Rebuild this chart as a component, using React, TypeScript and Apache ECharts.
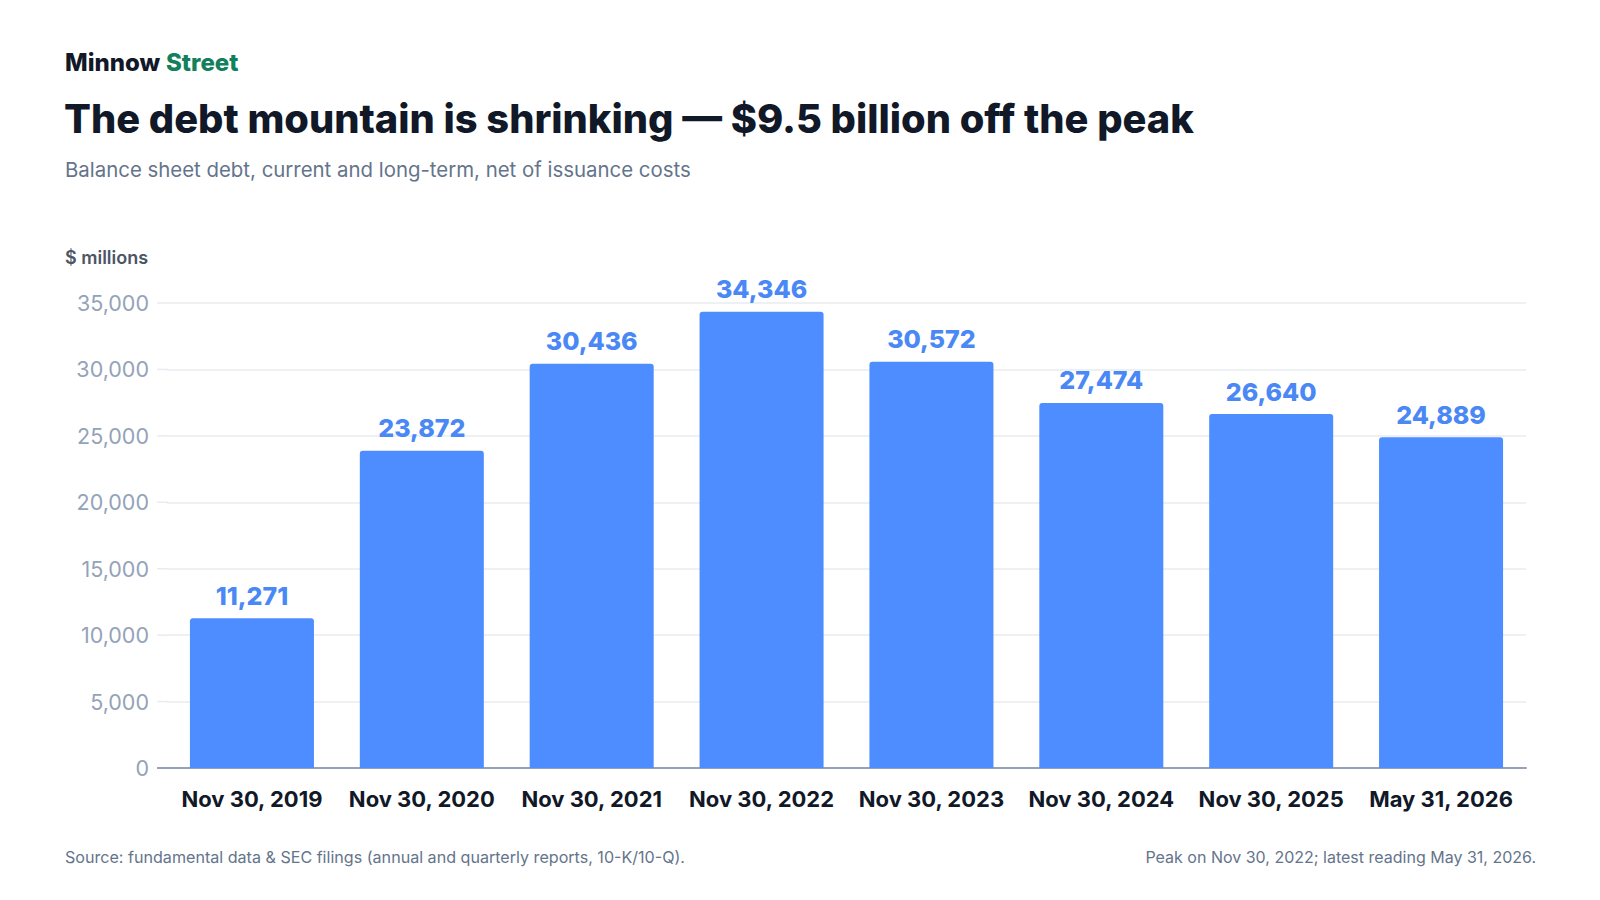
import React, { useEffect, useRef } from "react";
import * as echarts from "echarts";

const categories = [
  "Nov 30, 2019",
  "Nov 30, 2020",
  "Nov 30, 2021",
  "Nov 30, 2022",
  "Nov 30, 2023",
  "Nov 30, 2024",
  "Nov 30, 2025",
  "May 31, 2026",
];
const debtValues = [11271, 23872, 30436, 34346, 30572, 27474, 26640, 24889];
const yTicks = { min: 0, max: 35000, interval: 5000 };
const tickValues = [0, 5000, 10000, 15000, 20000, 25000, 30000, 35000];

const brandName = "Minnow";
const brandAccent = "Street";
const titleText = "The debt mountain is shrinking — $9.5 billion off the peak";
const subtitleText = "Balance sheet debt, current and long-term, net of issuance costs";
const unitText = "$ millions";
const sourceText = "Source: fundamental data & SEC filings (annual and quarterly reports, 10-K/10-Q).";
const noteText = "Peak on Nov 30, 2022; latest reading May 31, 2026.";

const FONT = "Inter, 'Noto Sans', sans-serif";
const fmt = (v: number) => v.toLocaleString("en-US");

const GRID_LEFT = 167;
const LINE_START = 157;

export default function App() {
  const ref = useRef<HTMLDivElement>(null);
  useEffect(() => {
    if (!ref.current) return;
    const chart = echarts.init(ref.current, undefined, { renderer: "svg" });
    const staticGraphics: any[] = [
      {
        id: "brand",
        type: "text",
        x: 65,
        y: 62,
        style: { text: brandName, font: `800 24px ${FONT}`, fill: "#111827", verticalAlign: "middle" },
      },
      {
        id: "brand2",
        type: "text",
        x: 166,
        y: 62,
        style: { text: brandAccent, font: `800 24px ${FONT}`, fill: "#12805c", verticalAlign: "middle" },
      },
      {
        id: "title",
        type: "text",
        x: 64,
        y: 118,
        style: { text: titleText, font: `800 39.8px ${FONT}`, fill: "#111827", verticalAlign: "middle" },
      },
      {
        id: "subtitle",
        type: "text",
        x: 65,
        y: 169,
        style: { text: subtitleText, font: `400 20.4px ${FONT}`, fill: "#64748b", verticalAlign: "middle" },
      },
      {
        id: "unit",
        type: "text",
        x: 65,
        y: 257,
        style: { text: unitText, font: `600 18px ${FONT}`, fill: "#4b5563", verticalAlign: "middle" },
      },
      {
        id: "source",
        type: "text",
        x: 65,
        y: 857,
        style: { text: sourceText, font: `400 16.1px ${FONT}`, fill: "#64748b", verticalAlign: "middle" },
      },
      {
        id: "note",
        type: "text",
        x: 1536,
        y: 857,
        style: { text: noteText, font: `400 16px ${FONT}`, fill: "#64748b", verticalAlign: "middle", align: "right" },
      },
    ];
    chart.setOption({
      animation: false,
      backgroundColor: "#ffffff",
      textStyle: { fontFamily: FONT },
      grid: { left: GRID_LEFT, right: 74, top: 303, bottom: 132, containLabel: false },
      xAxis: {
        type: "category",
        data: categories,
        axisLine: { show: true, lineStyle: { color: "#94a3b8", width: 2 } },
        axisTick: { show: false },
        axisLabel: {
          margin: 20,
          fontSize: 22,
          fontWeight: 700,
          color: "#111827",
          fontFamily: FONT,
          interval: 0,
        },
      },
      yAxis: {
        type: "value",
        min: yTicks.min,
        max: yTicks.max,
        interval: yTicks.interval,
        axisLine: { show: false },
        axisTick: { show: false },
        splitLine: { lineStyle: { color: "#e8ecf1", width: 1.5 } },
        axisLabel: {
          margin: 18,
          fontSize: 21.5,
          color: "#94a3b8",
          fontFamily: FONT,
          formatter: (v: number) => fmt(v),
        },
      },
      series: [
        {
          type: "bar",
          data: debtValues,
          barWidth: "73%",
          itemStyle: { color: "#4d8dff", borderRadius: [3, 3, 0, 0] },
          label: {
            show: true,
            position: "top",
            distance: 10,
            fontSize: 25,
            fontWeight: 800,
            color: "#4a88f5",
            fontFamily: FONT,
            formatter: (p: any) => fmt(p.value),
          },
        },
      ],
      graphic: staticGraphics,
    });
    // extend gridlines and the baseline a little to the left, using the chart's own y scale
    const ext = tickValues.map((v, i) => {
      const y = chart.convertToPixel({ yAxisIndex: 0 }, v) as number;
      const isBase = v === 0;
      return {
        id: "ext" + i,
        type: "line",
        z: isBase ? 5 : 0,
        shape: { x1: LINE_START, y1: y, x2: GRID_LEFT + 1, y2: y },
        style: { stroke: isBase ? "#94a3b8" : "#e8ecf1", lineWidth: isBase ? 2 : 1.5 },
      };
    });
    chart.setOption({ graphic: [...staticGraphics, ...ext] });
    return () => chart.dispose();
  }, []);
  return (
    <div
      ref={ref}
      style={{ position: "fixed", left: 0, top: 0, width: 1600, height: 900, background: "#fff" }}
    />
  );
}
